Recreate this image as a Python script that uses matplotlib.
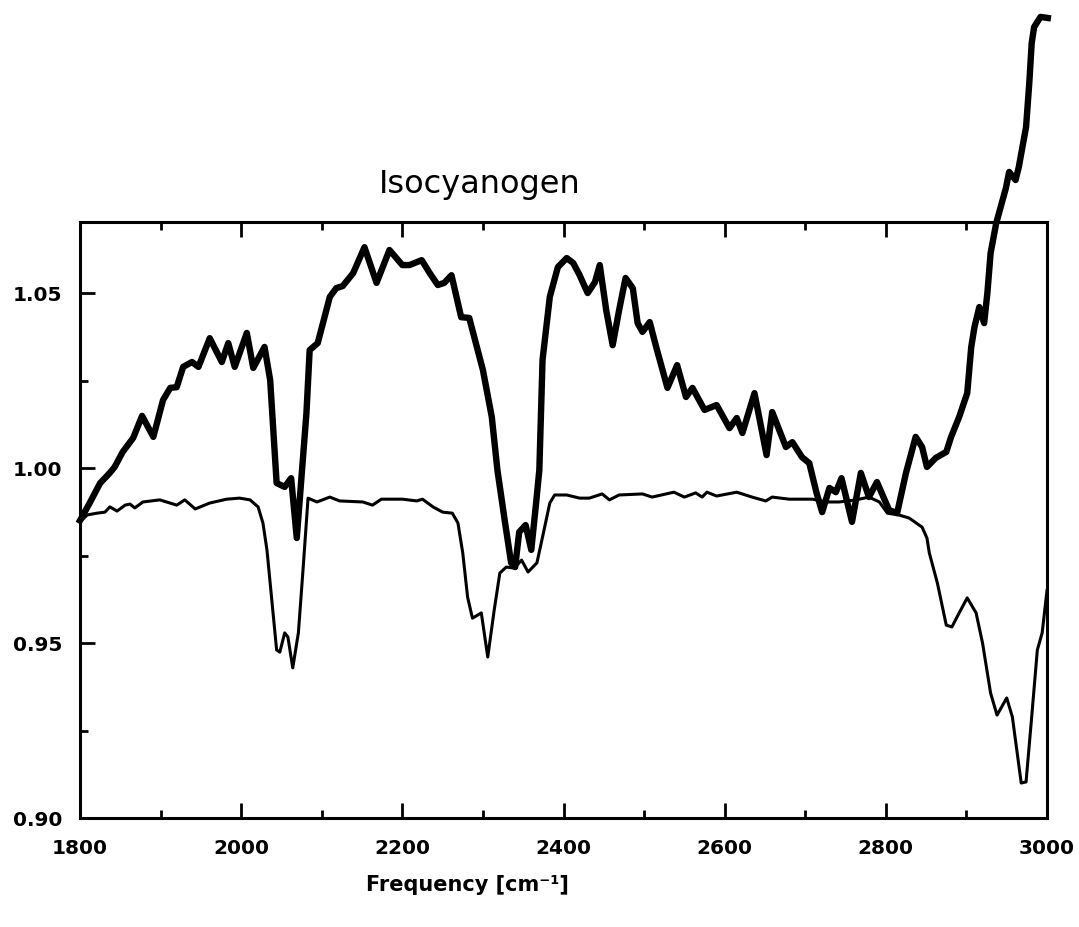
import numpy as np
import matplotlib
matplotlib.use('Agg')
from matplotlib import pyplot as plt
from matplotlib.ticker import MultipleLocator

# thick trace (sample spectrum)
freq_thick = [1800, 1812, 1825, 1837, 1843, 1853, 1866, 1877, 1891, 1903, 1912, 1920, 1928, 1939,
              1947, 1961, 1976, 1984, 1992, 2007, 2015, 2029, 2036, 2044, 2054, 2062, 2069, 2081,
              2085, 2095, 2110, 2118, 2126, 2139, 2153, 2168, 2184, 2200, 2209, 2224, 2234, 2244,
              2252, 2261, 2273, 2283, 2300, 2311, 2318, 2327, 2335, 2340, 2345, 2353, 2360, 2366,
              2370, 2374, 2383, 2393, 2404, 2412, 2420, 2430, 2439, 2445, 2453, 2461, 2469, 2477,
              2486, 2492, 2498, 2507, 2515, 2529, 2541, 2552, 2560, 2575, 2590, 2606, 2615, 2622,
              2637, 2652, 2659, 2676, 2684, 2696, 2705, 2714, 2721, 2730, 2738, 2745, 2758, 2769,
              2779, 2789, 2804, 2814, 2825, 2837, 2845, 2851, 2862, 2875, 2881, 2891, 2901, 2906,
              2910, 2916, 2922, 2926, 2930, 2937, 2949, 2953, 2961, 2965, 2974, 2978, 2981, 2984,
              2992, 3001]
trans_thick = [0.985, 0.990, 0.9957, 0.9986, 1.0003, 1.0046, 1.0086, 1.0149, 1.0089, 1.0194, 1.0229,
               1.0231, 1.0289, 1.0303, 1.0289, 1.0371, 1.0303, 1.0357, 1.0289, 1.0386, 1.0286, 1.0346,
               1.0251, 0.9957, 0.9946, 0.9971, 0.980, 1.0157, 1.0337, 1.0357, 1.0489, 1.0514, 1.052,
               1.0557, 1.0631, 1.0529, 1.0623, 1.058, 1.058, 1.0594, 1.0557, 1.0523, 1.0529, 1.0551,
               1.0431, 1.0429, 1.028, 1.0146, 0.9994, 0.9851, 0.9729, 0.9717, 0.9817, 0.9837, 0.9766,
               0.990, 0.9994, 1.0309, 1.0489, 1.0574, 1.060, 1.0586, 1.0551, 1.050, 1.0531, 1.058,
               1.0451, 1.0351, 1.0451, 1.0543, 1.0514, 1.0414, 1.0389, 1.0417, 1.0346, 1.0229, 1.0294,
               1.0203, 1.0229, 1.0166, 1.018, 1.0114, 1.0143, 1.010, 1.0214, 1.0037, 1.016, 1.006,
               1.0074, 1.0031, 1.0014, 0.9929, 0.9874, 0.9943, 0.9931, 0.9971, 0.9846, 0.9986, 0.9917,
               0.996, 0.988, 0.9871, 0.9986, 1.0089, 1.006, 1.0003, 1.0029, 1.0046, 1.0089, 1.0146,
               1.0214, 1.0346, 1.0403, 1.046, 1.0414, 1.05, 1.0614, 1.070, 1.080, 1.0846, 1.0823,
               1.086, 1.0974, 1.11, 1.1214, 1.126, 1.1289, 1.1286]

# thin trace (reference spectrum)
freq_thin = [1800, 1809, 1821, 1831, 1837, 1846, 1856, 1862, 1868, 1878, 1899, 1920, 1930, 1943,
             1961, 1982, 1998, 2011, 2021, 2027, 2032, 2038, 2044, 2048, 2054, 2058, 2064, 2071,
             2077, 2083, 2094, 2110, 2122, 2151, 2163, 2174, 2200, 2218, 2225, 2238, 2250, 2262,
             2269, 2275, 2281, 2287, 2298, 2306, 2314, 2321, 2329, 2339, 2348, 2356, 2367, 2374,
             2383, 2389, 2404, 2420, 2432, 2448, 2457, 2469, 2498, 2510, 2537, 2550, 2564, 2572,
             2578, 2590, 2615, 2634, 2651, 2659, 2680, 2709, 2726, 2742, 2763, 2779, 2792, 2802,
             2816, 2829, 2845, 2851, 2854, 2864, 2875, 2882, 2891, 2901, 2912, 2920, 2930, 2938,
             2950, 2957, 2968, 2974, 2981, 2988, 2994, 3000]
trans_thin = [0.9846, 0.9866, 0.9871, 0.9874, 0.9889, 0.9877, 0.9894, 0.9897, 0.9886, 0.9903, 0.9909,
              0.9894, 0.9909, 0.9883, 0.990, 0.9911, 0.9914, 0.9909, 0.9889, 0.9843, 0.9766, 0.9623,
              0.948, 0.9474, 0.9529, 0.9517, 0.9429, 0.9529, 0.9717, 0.9914, 0.9903, 0.9917, 0.9906,
              0.9903, 0.9894, 0.9911, 0.9911, 0.9906, 0.9911, 0.9889, 0.9874, 0.9871, 0.9843, 0.9757,
              0.9631, 0.9571, 0.9586, 0.946, 0.9594, 0.970, 0.9717, 0.9714, 0.9737, 0.9703, 0.9729,
              0.9803, 0.990, 0.9923, 0.9923, 0.9914, 0.9914, 0.9926, 0.9909, 0.9923, 0.9926, 0.9917,
              0.9931, 0.9917, 0.9929, 0.9917, 0.9931, 0.992, 0.9931, 0.9917, 0.9906, 0.9917, 0.9911,
              0.9911, 0.9903, 0.9903, 0.9909, 0.9917, 0.9903, 0.9871, 0.9866, 0.9857, 0.9831, 0.980,
              0.9757, 0.9671, 0.9551, 0.9546, 0.9586, 0.9629, 0.9586, 0.950, 0.9357, 0.9294, 0.9343,
              0.9289, 0.910, 0.9103, 0.9289, 0.948, 0.9529, 0.965]

y_ticks = [0.90, 0.95, 1.00, 1.05]
x_ticks = [1800, 2000, 2200, 2400, 2600, 2800, 3000]

fig = plt.figure(figsize=(10.79, 9.27), dpi=100)
ax = fig.add_axes([80 / 1079, 1 - 818 / 927, 967 / 1079, 596 / 927])

ax.plot(freq_thin, trans_thin, color='black', linewidth=2.2, solid_joinstyle='round')
ax.plot(freq_thick, trans_thick, color='black', linewidth=4.6, solid_joinstyle='round',
        clip_on=False)

ax.set_xlim(1800, 3000)
ax.set_ylim(0.90, 1.0703)
ax.set_xticks(x_ticks)
ax.set_yticks(y_ticks)
ax.set_yticklabels(["{:.2f}".format(v) for v in y_ticks])
ax.xaxis.set_minor_locator(MultipleLocator(100))
ax.yaxis.set_minor_locator(MultipleLocator(0.025))

for spine in ax.spines.values():
    spine.set_linewidth(2.2)

ax.tick_params(which='both', direction='in', top=True, right=False, width=2.0)
ax.tick_params(which='major', length=11, labelsize=14.5)
ax.tick_params(axis='x', which='major', pad=15)
ax.tick_params(axis='y', which='major', pad=13)
ax.tick_params(which='minor', length=6)
for lbl in ax.get_xticklabels() + ax.get_yticklabels():
    lbl.set_fontweight('bold')

fig.text(480 / 1079, 1 - 193 / 927, "Isocyanogen", fontsize=23, ha='center', va='baseline')
fig.text(467 / 1079, 1 - 885 / 927, "Frequency [cm\u207b\u00b9]", fontsize=15, fontweight='bold',
         ha='center', va='center')

plt.savefig("out.png", dpi=100)
plt.close(fig)
